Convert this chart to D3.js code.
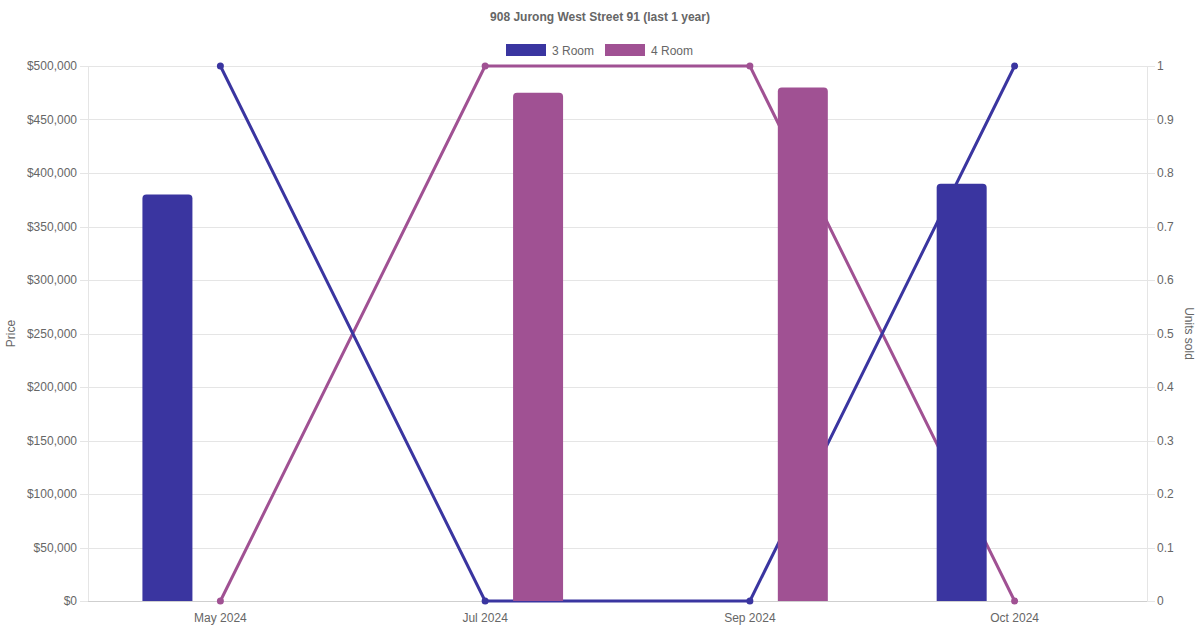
<!DOCTYPE html>
<html><head><meta charset="utf-8">
<script src="https://cdn.jsdelivr.net/npm/d3@7"></script>
<style>html,body{margin:0;padding:0;background:#fff}svg{display:block}</style>
</head><body><svg id="c" width="1200" height="630"></svg>
<script>
const title = "908 Jurong West Street 91 (last 1 year)";
const months = ["May 2024", "Jul 2024", "Sep 2024", "Oct 2024"];
const seriesNames = ["3 Room", "4 Room"];
const seriesColors = ["#3a35a0", "#a05193"];
const price3Room = [380000, null, null, 390000];
const price4Room = [null, 475000, 480000, null];
const units3Room = [1, 0, 0, 1];
const units4Room = [0, 1, 1, 0];
const priceTicks = [0, 50000, 100000, 150000, 200000, 250000, 300000, 350000, 400000, 450000, 500000];
const unitTicks = [0, 0.1, 0.2, 0.3, 0.4, 0.5, 0.6, 0.7, 0.8, 0.9, 1];

const prices = [price3Room, price4Room];
const units = [units3Room, units4Room];

const svg = d3.select("#c");
const font = "'Liberation Sans', Arial, Helvetica, sans-serif";
const txt = "#666";
const grid = "#e5e5e5";
const L = 88, R = 1147, T = 66, B = 601;

const x = d3.scaleBand().domain(months).range([L, R]).padding(0);
const xs = d3.scaleBand().domain(seriesNames).range([-x.bandwidth()*0.4, x.bandwidth()*0.4]);
const yP = d3.scaleLinear().domain([0, 500000]).range([B, T]);
const yU = d3.scaleLinear().domain([0, 1]).range([B, T]);
const barW = Math.min(50, xs.bandwidth()*0.9);

// title
svg.append("text").attr("x", 600).attr("y", 21).attr("text-anchor", "middle")
  .attr("font-family", font).attr("font-size", 12).attr("font-weight", "bold").attr("fill", txt).text(title);

// legend
const legW = [40 + 6 + 43, 40 + 6 + 43];
const lg = svg.append("g");
let lx = 506;
seriesNames.forEach((s, i) => {
  lg.append("rect").attr("x", lx).attr("y", 44).attr("width", 40).attr("height", 12)
    .attr("fill", seriesColors[i]);
  lg.append("text").attr("x", lx + 46).attr("y", 54.5).attr("font-family", font).attr("font-size", 12)
    .attr("fill", txt).text(s);
  lx += 99;
});

// grid
svg.append("g").selectAll("line").data(priceTicks).join("line")
  .attr("x1", L - 8).attr("x2", R + 8).attr("y1", d => Math.round(yP(d)) + 0.5).attr("y2", d => Math.round(yP(d)) + 0.5)
  .attr("stroke", grid).attr("stroke-width", 1);
// axis lines
svg.append("line").attr("x1", L + 0.5).attr("x2", L + 0.5).attr("y1", T).attr("y2", B).attr("stroke", grid);
svg.append("line").attr("x1", R + 0.5).attr("x2", R + 0.5).attr("y1", T).attr("y2", B).attr("stroke", grid);
svg.append("line").attr("x1", L).attr("x2", R).attr("y1", B + 0.5).attr("y2", B + 0.5).attr("stroke", "#cfcfcf");

// left axis
const leftAxis = d3.axisLeft(yP).tickValues(priceTicks).tickSize(0).tickPadding(11)
  .tickFormat(d => "$" + d3.format(",")(d));
const ga = svg.append("g").attr("transform", `translate(${L},0)`).call(leftAxis);
ga.select(".domain").remove();
ga.selectAll("text").attr("font-family", font).attr("font-size", 12).attr("fill", txt);

const rightAxis = d3.axisRight(yU).tickValues(unitTicks).tickSize(0).tickPadding(10)
  .tickFormat(d => d3.format("~g")(d));
const gr = svg.append("g").attr("transform", `translate(${R},0)`).call(rightAxis);
gr.select(".domain").remove();
gr.selectAll("text").attr("font-family", font).attr("font-size", 12).attr("fill", txt);

const bottomAxis = d3.axisBottom(x).tickSize(0).tickPadding(12);
const gb = svg.append("g").attr("transform", `translate(0,${B})`).call(bottomAxis);
gb.select(".domain").remove();
gb.selectAll("text").attr("font-family", font).attr("font-size", 12).attr("fill", txt);

// axis titles
svg.append("text").attr("transform", `translate(15,${(T+B)/2}) rotate(-90)`).attr("text-anchor", "middle")
  .attr("font-family", font).attr("font-size", 12).attr("fill", txt).text("Price");
svg.append("text").attr("transform", `translate(1185,${(T+B)/2}) rotate(90)`).attr("text-anchor", "middle")
  .attr("font-family", font).attr("font-size", 12).attr("fill", txt).text("Units sold");

// lines (4 Room under 3 Room)
const cx = m => x(m) + x.bandwidth()/2;
const line = d3.line().x(d => cx(d.m)).y(d => yU(d.v));
[1, 0].forEach(i => {
  const pts = months.map((m, j) => ({m, v: units[i][j]}));
  svg.append("path").attr("d", line(pts)).attr("fill", "none")
    .attr("stroke", seriesColors[i]).attr("stroke-width", 3).attr("stroke-linejoin", "round");
  svg.append("g").selectAll("circle").data(pts).join("circle")
    .attr("cx", d => cx(d.m)).attr("cy", d => yU(d.v)).attr("r", 3.5).attr("fill", seriesColors[i]);
});

// bars
function barPath(x0, y0, w, h, r) {
  r = Math.min(r, h, w/2);
  return `M${x0},${y0+h}V${y0+r}Q${x0},${y0} ${x0+r},${y0}H${x0+w-r}Q${x0+w},${y0} ${x0+w},${y0+r}V${y0+h}Z`;
}
seriesNames.forEach((s, i) => {
  const data = months.map((m, j) => ({m, v: prices[i][j]})).filter(d => d.v != null);
  svg.append("g").selectAll("path").data(data).join("path")
    .attr("d", d => {
      const c = x(d.m) + x.bandwidth()/2 + xs(s) + xs.bandwidth()/2;
      return barPath(c - barW/2, yP(d.v), barW, yP(0) - yP(d.v), 4);
    })
    .attr("fill", seriesColors[i]);
});
</script></body></html>
